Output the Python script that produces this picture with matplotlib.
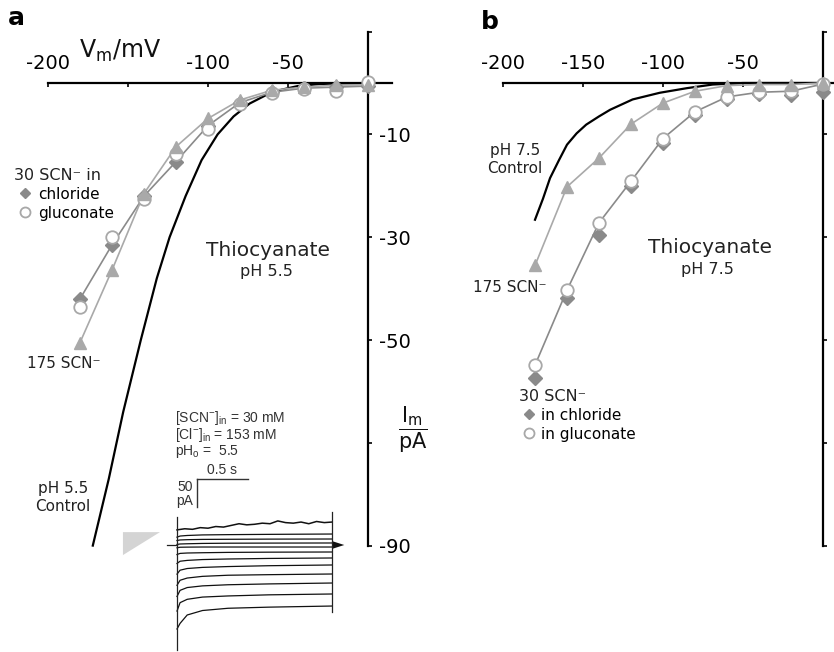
import numpy as np
import matplotlib
matplotlib.use("Agg")
import matplotlib.pyplot as plt

# ---- data ----
volt = [-180, -160, -140, -120, -100, -80, -60, -40, -20, 0]

# panel a: pH 5.5
a_chloride = [-42, -31.5, -22, -15.3, -8.3, -3.8, -1.8, -1.0, -0.8, -0.6]
a_gluconate = [-43.5, -30, -22.5, -13.8, -9.0, -4.1, -2.0, -1.2, -1.5, 0.2]
a_scn175 = [-50.5, -36.4, -21.5, -12.4, -6.9, -3.3, -1.4, -0.8, -0.4, -0.4]
a_ctrl_v = [-172, -162, -153, -142, -132, -124, -114, -104, -94, -84, -74, -64, -54, -44, -30, 0]
a_ctrl_i = [-90, -77, -64, -50, -38, -30, -22, -15, -10, -6.5, -4, -2.4, -1.3, -0.6, -0.2, 0]

# panel b: pH 7.5
b_chloride = [-57.4, -41.8, -29.5, -20.0, -11.7, -6.2, -3.1, -2.2, -2.3, -1.7]
b_gluconate = [-54.9, -40.3, -27.2, -19.1, -10.8, -5.6, -2.7, -1.8, -1.6, -0.2]
b_scn175 = [-35.5, -20.2, -14.6, -8.0, -3.9, -1.6, -0.5, -0.3, -0.3, 0]
b_ctrl_v = [-180, -175, -170.6, -165, -160, -154, -148, -140, -133, -119, -102, -85, -69, -50, 0]
b_ctrl_i = [-26.6, -22.5, -18.5, -15, -12, -9.8, -8.1, -6.5, -5.2, -3.2, -1.9, -1.0, -0.3, 0, 0]

# inset current traces (time in s, current in pA)
trace_t = [0, 0.03, 0.1, 0.25, 0.5, 0.9, 1.52]
traces = [
    [14, 16, 17, 18, 18.5, 19, 19.6],
    [8, 9, 9.5, 10, 10.2, 10.5, 10.7],
    [1, 1.8, 2.2, 2.8, 3.2, 3.4, 3.6],
    [-5, -4, -3.8, -3.6, -3.6, -3.6, -3.6],
    [-17, -15, -14.3, -13.8, -13.2, -12.8, -12.5],
    [-33, -29, -27.5, -26, -25, -24, -23.2],
    [-52, -45, -42, -40, -38.5, -37, -35.7],
    [-72, -63, -59, -56, -54, -53, -51.8],
    [-92, -81, -76, -73, -71, -69.5, -67.9],
    [-118, -103, -97, -93, -91, -89, -87.5],
    [-150, -140, -125, -117, -113, -111, -109],
]
top_trace = [27, 29, 28, 31, 30, 33, 32, 35, 38, 36, 37, 39, 38, 43, 40, 39, 41, 38, 42, 40, 41]
step_start_i = [50, -187]
step_end_i = [59, -120]
trace_end = 1.52
tail_t = [1.52, 1.64, 1.52]
tail_i = [7, 0, -7]
ramp_t = [-0.53, -0.167, -0.53]
ramp_i = [23, 23, -18]

GRAY_D = "#8a8a8a"
GRAY_T = "#a9a9a9"
GRAY_C = "#a8a8a8"
TXT = "#222222"

W, H = 834, 652
fig = plt.figure(figsize=(W / 100, H / 100), dpi=100)


def setup_panel(ax, xticklabels, yticklabels):
    ax.patch.set_visible(False)
    ax.spines["left"].set_visible(False)
    ax.spines["bottom"].set_visible(False)
    ax.spines["top"].set_position(("data", 0))
    ax.spines["right"].set_position(("data", 0))
    ax.spines["top"].set_bounds(-200, 15)
    ax.spines["right"].set_bounds(-90, 10)
    for s in ("top", "right"):
        ax.spines[s].set_linewidth(1.6)
    ax.xaxis.set_ticks_position("top")
    ax.yaxis.set_ticks_position("right")
    ax.set_xticks([-200, -150, -100, -50])
    ax.set_xticklabels(xticklabels)
    ax.set_yticks([10, -10, -30, -50, -70, -90])
    ax.set_yticklabels(yticklabels)
    ax.tick_params(axis="x", direction="in", length=3, width=1.2, pad=7, labelsize=14)
    ax.tick_params(axis="y", direction="out", length=3, width=1.2, pad=5, labelsize=14)
    ax.set_ylim(-(H - 83) / 5.14, 83 / 5.14)


# ---- panel b (drawn first, panel a's label overlaps it) ----
axb = fig.add_axes([420 / W, 0, 414 / W, 1])
axb.set_xlim(-200 - (503 - 420) / 1.6, -200 + (834 - 503) / 1.6)
setup_panel(axb, ["-200", "-150", "-100", "-50"], [""] * 6)

axb.plot(b_ctrl_v, b_ctrl_i, color="black", lw=1.6, zorder=2)
axb.plot(volt, b_gluconate, color=GRAY_D, lw=1.2, zorder=3)
axb.plot(volt, b_scn175, color=GRAY_T, lw=1.2, zorder=3)
hb_cl, = axb.plot(volt, b_chloride, ls="none", marker="D", ms=7, color=GRAY_D, zorder=4)
hb_gl, = axb.plot(volt, b_gluconate, ls="none", marker="o", ms=9, mfc="white",
                  mec=GRAY_C, mew=1.3, zorder=5)
axb.plot(volt, b_scn175, ls="none", marker="^", ms=9, color=GRAY_T, zorder=6)

legb = axb.legend(handles=[hb_cl, hb_gl], labels=["in chloride", "in gluconate"],
                  title="30 SCN\u207b", loc="upper left",
                  bbox_to_anchor=(519 / W, 1 - 389 / H), bbox_transform=fig.transFigure,
                  frameon=False, alignment="left", fontsize=11, title_fontsize=11.5,
                  handlelength=1.3, handletextpad=0.15, labelspacing=0.25,
                  borderpad=0, borderaxespad=0, markerscale=0.8)
legb.get_title().set_color(TXT)

axb.text(-192.5, -14.8, "pH 7.5\nControl", fontsize=11, ha="center", va="center",
         linespacing=1.25, color=TXT)
axb.text(-195.6, -39.7, "175 SCN\u207b", fontsize=11, ha="center", va="center", color=TXT)
axb.text(-70.6, -32.1, "Thiocyanate", fontsize=14.5, ha="center", va="center", color=TXT)
axb.text(-72, -36.2, "pH 7.5", fontsize=11.5, ha="center", va="center", color=TXT)
fig.text(481 / W, 1 - 22 / H, "b", fontsize=18, fontweight="bold", va="center")

# ---- panel a ----
axa = fig.add_axes([0, 0, 420 / W, 1])
axa.set_xlim(-200 - 48 / 1.6, -200 + (420 - 48) / 1.6)
setup_panel(axa, ["-200", "", "-100", "-50"], ["", "-10", "-30", "-50", "", "-90"])

axa.plot(a_ctrl_v, a_ctrl_i, color="black", lw=1.6, zorder=2)
axa.plot(volt, a_chloride, color=GRAY_D, lw=1.2, zorder=3)
axa.plot(volt, a_scn175, color=GRAY_T, lw=1.2, zorder=3)
ha_cl, = axa.plot(volt, a_chloride, ls="none", marker="D", ms=7, color=GRAY_D, zorder=4)
ha_gl, = axa.plot(volt, a_gluconate, ls="none", marker="o", ms=9, mfc="white",
                  mec=GRAY_C, mew=1.3, zorder=5)
axa.plot(volt, a_scn175, ls="none", marker="^", ms=9, color=GRAY_T, zorder=6)

leg = axa.legend(handles=[ha_cl, ha_gl], labels=["chloride", "gluconate"],
                 title="30 SCN\u207b in", loc="upper left",
                 bbox_to_anchor=(14 / W, 1 - 168 / H), bbox_transform=fig.transFigure,
                 frameon=False, alignment="left", fontsize=11, title_fontsize=11.5,
                 handlelength=1.4, handletextpad=0.15, labelspacing=0.25,
                 borderpad=0, borderaxespad=0, markerscale=0.8)
leg.get_title().set_color(TXT)

axa.text(-190, -54.5, "175 SCN\u207b", fontsize=11, ha="center", va="center", color=TXT)
axa.text(-62.5, -32.5, "Thiocyanate", fontsize=14.5, ha="center", va="center", color=TXT)
axa.text(-63.7, -36.6, "pH 5.5", fontsize=11.5, ha="center", va="center", color=TXT)
axa.text(-190.5, -80.7, "pH 5.5\nControl", fontsize=11, ha="center", va="center",
         linespacing=1.25, color=TXT)
axa.text(-155, 6.2, "V$_\\mathregular{m}$/mV", fontsize=17, ha="center", va="center", color="#111111")
axa.text(28, -67.5, r"$\dfrac{\mathrm{I_m}}{\mathrm{pA}}$", fontsize=15, ha="center",
         va="center", color="#111111")
fig.text(8 / W, 1 - 18 / H, "a", fontsize=18, fontweight="bold", va="center")

# ---- inset with current traces ----
px_s = 102.0
axi = fig.add_axes([110 / W, 0, 240 / W, 252 / H])
axi.set_xlim((110 - 177) / px_s, (350 - 177) / px_s)
axi.set_ylim(-(652 - 545) * 1.786, (545 - 400) * 1.786)
axi.axis("off")

for tr in traces:
    axi.plot(trace_t, tr, color="#111111", lw=0.9)
axi.plot(np.linspace(0, trace_end, len(top_trace)), top_trace, color="#111111", lw=1.1)
axi.plot([0, 0], step_start_i, color="#222222", lw=0.9)
axi.plot([trace_end, trace_end], step_end_i, color="#222222", lw=0.9)
axi.plot([-0.1, 0], [0, 0], color="#222222", lw=0.9)
axi.fill(tail_t, tail_i, color="#111111", lw=0)
axi.fill(ramp_t, ramp_i, color="#d4d4d4", lw=0)

# scale bar: 0.5 s, 50 pA
sb_t0, sb_i0 = 0.196, 118
axi.plot([sb_t0, sb_t0 + 0.5], [sb_i0, sb_i0], color="#333333", lw=1.0)
axi.plot([sb_t0, sb_t0], [sb_i0, sb_i0 - 50], color="#333333", lw=1.0)
inset_font = ["Liberation Sans Narrow", "Liberation Sans"]
axi.text(sb_t0 + 0.25, sb_i0 + 4, "0.5 s", ha="center", va="bottom", fontsize=10,
         family=inset_font, color="#333333")
axi.text(sb_t0 - 0.04, sb_i0 - 14, "50", ha="right", va="center", fontsize=10,
         family=inset_font, color="#333333")
axi.text(sb_t0 - 0.04, sb_i0 - 40, "pA", ha="right", va="center", fontsize=10,
         family=inset_font, color="#333333")
for k, s in enumerate([r"[SCN$^{\mathregular{-}}$]$_\mathregular{in}$ = 30 mM",
                       r"[Cl$^{\mathregular{-}}$]$_\mathregular{in}$ = 153 mM",
                       r"pH$_\mathregular{o}$ =  5.5"]):
    axi.text(-0.02, 227 - 30.4 * k, s, ha="left", va="center", fontsize=10,
             family=inset_font, color="#333333")

fig.savefig("out.png", dpi=100)
